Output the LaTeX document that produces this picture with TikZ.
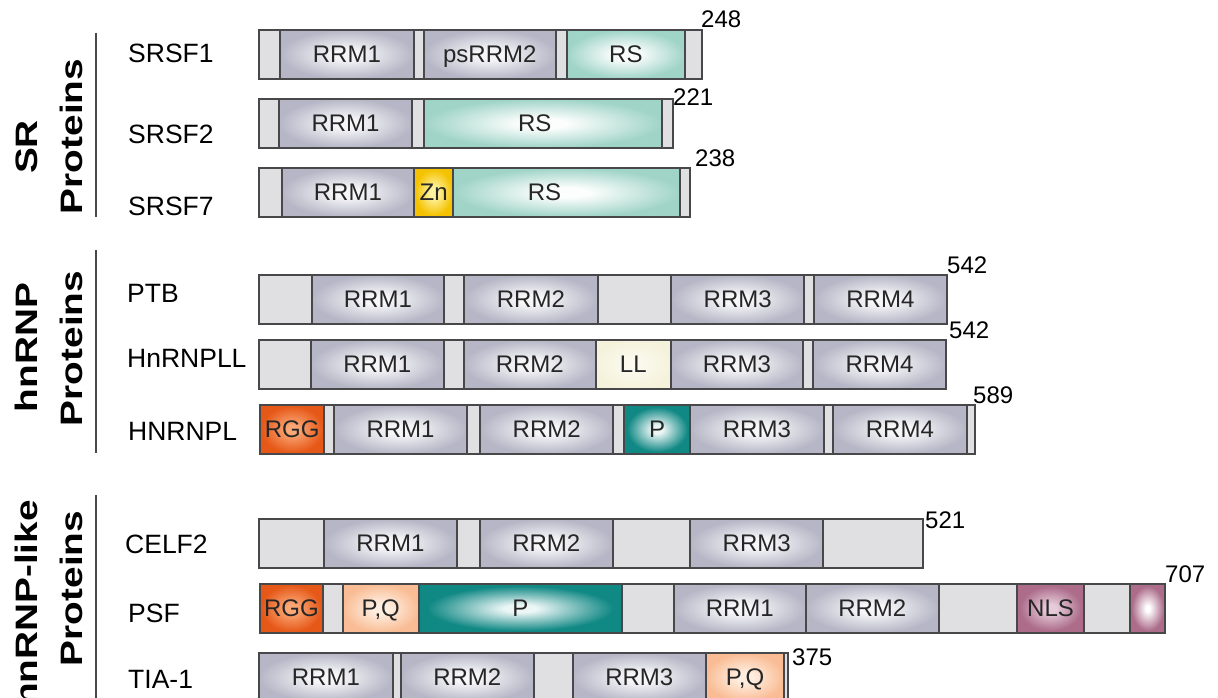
\documentclass[tikz,border=0pt]{standalone}
\usepackage{fontspec}
\setmainfont{Liberation Sans}
\usepackage{graphicx}

% fill colours of the domain types (outer / inner of each radial fill)
\definecolor{linec}{RGB}{72,72,74}
\definecolor{greyfill}{RGB}{224,224,227}
\definecolor{rrmout}{RGB}{182,182,198}
\definecolor{rrmin}{RGB}{246,246,249}
\definecolor{rsout}{RGB}{160,212,199}
\definecolor{rsin}{RGB}{252,254,253}
\definecolor{znout}{RGB}{244,194,0}
\definecolor{znin}{RGB}{255,243,160}
\definecolor{llout}{RGB}{245,242,220}
\definecolor{llin}{RGB}{252,251,242}
\definecolor{rggout}{RGB}{230,88,24}
\definecolor{rggin}{RGB}{250,168,118}
\definecolor{tealout}{RGB}{16,136,132}
\definecolor{tealin}{RGB}{236,246,246}
\definecolor{pqout}{RGB}{249,188,148}
\definecolor{pqin}{RGB}{255,238,224}
\definecolor{nlsout}{RGB}{172,108,138}
\definecolor{nlsin}{RGB}{230,204,218}
\definecolor{pinkin}{RGB}{255,255,255}

\pgfdeclareradialshading{rrmshade}{\pgfpoint{0bp}{0bp}}{color(0bp)=(rrmin); color(5bp)=(rrmin); color(25bp)=(rrmout); color(50bp)=(rrmout)}
\pgfdeclareradialshading{rsshade}{\pgfpoint{0bp}{0bp}}{color(0bp)=(rsin); color(5bp)=(rsin); color(25bp)=(rsout); color(50bp)=(rsout)}
\pgfdeclareradialshading{znshade}{\pgfpoint{0bp}{0bp}}{color(0bp)=(znin); color(5bp)=(znin); color(24bp)=(znout); color(50bp)=(znout)}
\pgfdeclareradialshading{llshade}{\pgfpoint{0bp}{0bp}}{color(0bp)=(llin); color(25bp)=(llout); color(50bp)=(llout)}
\pgfdeclareradialshading{rggshade}{\pgfpoint{0bp}{0bp}}{color(0bp)=(rggin); color(4bp)=(rggin); color(24bp)=(rggout); color(50bp)=(rggout)}
\pgfdeclareradialshading{tealshade}{\pgfpoint{0bp}{0bp}}{color(0bp)=(tealin); color(4bp)=(tealin); color(23bp)=(tealout); color(50bp)=(tealout)}
\pgfdeclareradialshading{pqshade}{\pgfpoint{0bp}{0bp}}{color(0bp)=(pqin); color(5bp)=(pqin); color(25bp)=(pqout); color(50bp)=(pqout)}
\pgfdeclareradialshading{nlsshade}{\pgfpoint{0bp}{0bp}}{color(0bp)=(nlsin); color(4bp)=(nlsin); color(23bp)=(nlsout); color(50bp)=(nlsout)}
\pgfdeclareradialshading{pinkshade}{\pgfpoint{0bp}{0bp}}{color(0bp)=(pinkin); color(3bp)=(pinkin); color(23bp)=(nlsout); color(50bp)=(nlsout)}

\newcommand{\domfont}{\fontsize{24}{25}\selectfont}
\newcommand{\protfont}{\fontsize{26.5}{27}\selectfont}
\newcommand{\grpfont}{\bfseries\fontsize{31}{31}\selectfont}
\newcommand{\grptext}[1]{\scalebox{1.25}[1]{#1}}

% one domain of a protein bar: name, left x, right x, top y, type, label
\newcommand{\seg}[6]{\node[seg,#5,minimum width={#3pt-#2pt}] (#1) at (#2,#4) {#6};}

\tikzset{
  seg/.style={draw=linec, line width=1.8pt, inner sep=0pt, minimum height=49pt,
    anchor=north west, font=\domfont, text=black!85, text height=17pt, text depth=0pt},
  gap/.style={fill=greyfill},
  rrm/.style={shading=rrmshade},
  rs/.style={shading=rsshade},
  zn/.style={shading=znshade},
  ll/.style={shading=llshade},
  rgg/.style={shading=rggshade},
  teal/.style={shading=tealshade},
  pq/.style={shading=pqshade},
  nls/.style={shading=nlsshade},
  pink/.style={shading=pinkshade},
  num/.style={anchor=base west, inner sep=0pt, font=\domfont},
  pname/.style={anchor=base west, inner sep=0pt, font=\protfont},
  grp/.style={rotate=90, inner sep=0pt, font=\grpfont},
  grpline/.style={draw=linec, line width=1.6pt}
}

\begin{document}
\begin{tikzpicture}[x=1pt,y=-1pt]
\useasboundingbox (0,0) rectangle (1218,698);
\clip (0,0) rectangle (1218,698);
\fill[white] (0,0) rectangle (1218,698);

% ---- group titles and separators
\node[grp,anchor=base] (gsr) at (37,147) {\grptext{SR}};
\node[grp,anchor=base] (gsrp) at (82,136.5) {\grptext{Proteins}};
\coordinate (l1a) at (96,33); \coordinate (l1b) at (96,217);
\draw[grpline] (l1a) -- (l1b);

\node[grp,anchor=base] (ghn) at (37,347.5) {\grptext{hnRNP}};
\node[grp,anchor=base] (ghnp) at (82,348.5) {\grptext{Proteins}};
\coordinate (l2a) at (96,250); \coordinate (l2b) at (96,453);
\draw[grpline] (l2a) -- (l2b);

\node[grp,anchor=base east] (ghl) at (37.5,500) {\grptext{hnRNP-like}};
\node[grp,anchor=base] (ghlp) at (82,588.5) {\grptext{Proteins}};
\coordinate (l3a) at (96,495); \coordinate (l3b) at (96,700);
\draw[grpline] (l3a) -- (l3b);

% ---- protein names
\node[pname] (n1) at (128,63) {SRSF1};
\node[pname] (n2) at (128,143) {SRSF2};
\node[pname] (n3) at (128,215) {SRSF7};
\node[pname] (n4) at (127,302) {PTB};
\node[pname] (n5) at (127,367) {HnRNPLL};
\node[pname] (n6) at (128,440) {HNRNPL};
\node[pname] (n7) at (125,553) {CELF2};
\node[pname] (n8) at (128,622) {PSF};
\node[pname] (n9) at (128,688) {TIA-1};

% ---- SRSF1
\seg{a1}{258.3}{279.3}{29}{gap}{}
\seg{a2}{279.3}{412.7}{29}{rrm}{RRM1}
\seg{a3}{412.7}{422.7}{29}{gap}{}
\seg{a4}{422.7}{555}{29}{rrm}{psRRM2}
\seg{a5}{555}{566}{29}{gap}{}
\seg{a6}{566}{684}{29}{rs}{RS}
\seg{a7}{684}{700.7}{29}{gap}{}
\node[num] (c1) at (701,28) {248};

% ---- SRSF2
\seg{b1}{258.3}{278.3}{98}{gap}{}
\seg{b2}{278.3}{411}{98}{rrm}{RRM1}
\seg{b3}{411}{422.7}{98}{gap}{}
\seg{b4}{422.7}{661}{98}{rs}{\hspace*{-16pt}RS}
\seg{b5}{661}{671.7}{98}{gap}{}
\node[num] (c2) at (673,106) {221};

% ---- SRSF7
\seg{d1}{258.3}{280.7}{167}{gap}{}
\seg{d2}{280.7}{413.3}{167}{rrm}{RRM1}
\seg{d3}{413.3}{452.3}{167}{zn}{Zn}
\seg{d4}{452.3}{679}{167}{rs}{\hspace*{-44pt}RS}
\seg{d5}{679}{689.3}{167}{gap}{}
\node[num] (c3) at (695,166) {238};

% ---- PTB
\seg{e1}{258.3}{310.7}{274}{gap}{}
\seg{e2}{310.7}{443.3}{274}{rrm}{RRM1}
\seg{e3}{443.3}{463.3}{274}{gap}{}
\seg{e4}{463.3}{596.7}{274}{rrm}{RRM2}
\seg{e5}{596.7}{670.3}{274}{gap}{}
\seg{e6}{670.3}{803.3}{274}{rrm}{RRM3}
\seg{e7}{803.3}{813.3}{274}{gap}{}
\seg{e8}{813.3}{945.7}{274}{rrm}{RRM4}
\node[num] (c4) at (947,273) {542};

% ---- HnRNPLL
\seg{f1}{258.3}{310}{339}{gap}{}
\seg{f2}{310}{442.7}{339}{rrm}{RRM1}
\seg{f3}{442.7}{462.7}{339}{gap}{}
\seg{f4}{462.7}{595}{339}{rrm}{RRM2}
\seg{f5}{595}{669.7}{339}{ll}{LL}
\seg{f6}{669.7}{802.3}{339}{rrm}{RRM3}
\seg{f7}{802.3}{812.3}{339}{gap}{}
\seg{f8}{812.3}{945}{339}{rrm}{RRM4}
\node[num] (c5) at (949,338) {542};

% ---- HNRNPL
\seg{g1}{259.3}{323.3}{404}{rgg}{RGG}
\seg{g2}{323.3}{333.3}{404}{gap}{}
\seg{g3}{333.3}{466}{404}{rrm}{RRM1}
\seg{g4}{466}{479.3}{404}{gap}{}
\seg{g5}{479.3}{612.3}{404}{rrm}{RRM2}
\seg{g6}{612.3}{623.3}{404}{gap}{}
\seg{g7}{623.3}{689.3}{404}{teal}{P}
\seg{g8}{689.3}{822.7}{404}{rrm}{RRM3}
\seg{g9}{822.7}{832.3}{404}{gap}{}
\seg{g10}{832.3}{965.7}{404}{rrm}{RRM4}
\seg{g11}{965.7}{974}{404}{gap}{}
\node[num] (c6) at (973,403) {589};

% ---- CELF2
\seg{h1}{258.3}{323.3}{518}{gap}{}
\seg{h2}{323.3}{455.7}{518}{rrm}{RRM1}
\seg{h3}{455.7}{479}{518}{gap}{}
\seg{h4}{479}{611.7}{518}{rrm}{RRM2}
\seg{h5}{611.7}{689.3}{518}{gap}{}
\seg{h6}{689.3}{822.3}{518}{rrm}{RRM3}
\seg{h7}{822.3}{921.7}{518}{gap}{}
\node[num] (c7) at (925,528) {521};

% ---- PSF
\seg{k1}{259.3}{321.7}{583}{rgg}{RGG}
\seg{k2}{321.7}{341.7}{583}{gap}{}
\seg{k3}{341.7}{418}{583}{pq}{P,Q}
\seg{k4}{418}{620.7}{583}{teal}{P}
\seg{k5}{620.7}{672.7}{583}{gap}{}
\seg{k6}{672.7}{805}{583}{rrm}{RRM1}
\seg{k7}{805}{937.7}{583}{rrm}{RRM2}
\seg{k8}{937.7}{1016}{583}{gap}{}
\seg{k9}{1016}{1083.3}{583}{nls}{NLS}
\seg{k10}{1083.3}{1129.3}{583}{gap}{}
\seg{k11}{1129.3}{1164.3}{583}{pink}{}
\node[num] (c8) at (1165,582) {707};

% ---- TIA-1
\seg{m1}{258.3}{391.7}{652}{rrm}{RRM1}
\seg{m2}{391.7}{400}{652}{gap}{}
\seg{m3}{400}{532.7}{652}{rrm}{RRM2}
\seg{m4}{532.7}{571.7}{652}{gap}{}
\seg{m5}{571.7}{705}{652}{rrm}{RRM3}
\seg{m6}{705}{783.3}{652}{pq}{P,Q}
\seg{m7}{783.3}{787.3}{652}{gap}{}
\node[num] (c9) at (792,665) {375};
\end{tikzpicture}
\end{document}
